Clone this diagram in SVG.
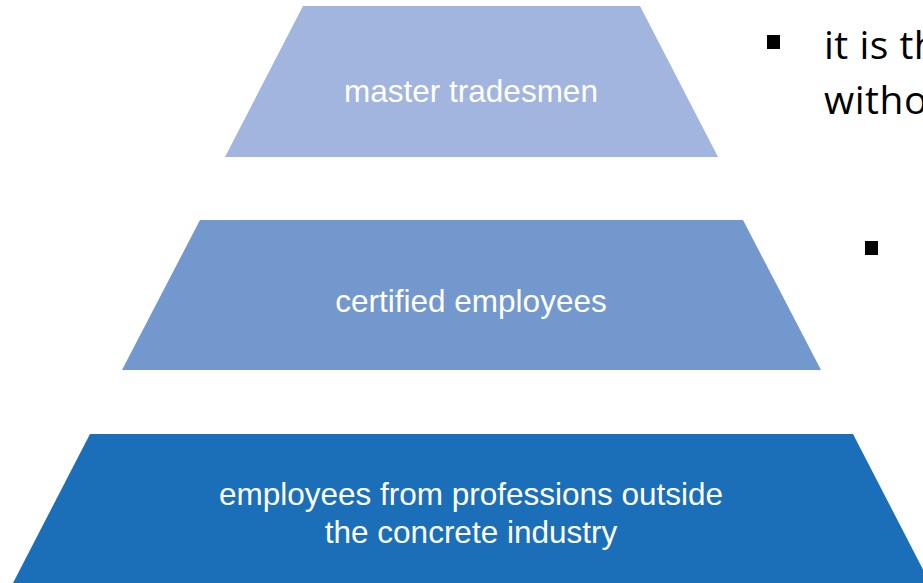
<svg xmlns="http://www.w3.org/2000/svg" width="923" height="583" viewBox="0 0 923 583">
<style>
.lbl{font-family:"Liberation Sans",Arial,sans-serif;font-size:31.5px;fill:#fff;text-anchor:middle}
.body{font-family:"Open Sans","Noto Sans",sans-serif;font-size:39px;letter-spacing:0.5px;fill:#000}
</style>
<rect width="923" height="583" fill="#fff"/>
<g id="level-top">
<polygon points="303,6 640,6 718,157 225,157" fill="#A1B5DF"/>
<text class="lbl" x="471" y="102">master tradesmen</text>
</g>
<g id="level-middle">
<polygon points="200,220 743,220 821,370 122,370" fill="#7398CE"/>
<text class="lbl" x="471" y="312">certified employees</text>
</g>
<g id="level-bottom">
<polygon points="90,434 853,434 930,583 13,583" fill="#1B6FB8"/>
<text class="lbl" x="471" y="505">employees from professions outside</text>
<text class="lbl" x="471" y="543">the concrete industry</text>
</g>
<g id="connectors"></g>
<g id="bullets">
<rect x="767" y="35" width="13" height="14" fill="#000"/>
<text class="body" x="824" y="59">it is th</text>
<text class="body" x="824" y="114">witho</text>
<rect x="865" y="241" width="13" height="14" fill="#000"/>
</g>
</svg>
